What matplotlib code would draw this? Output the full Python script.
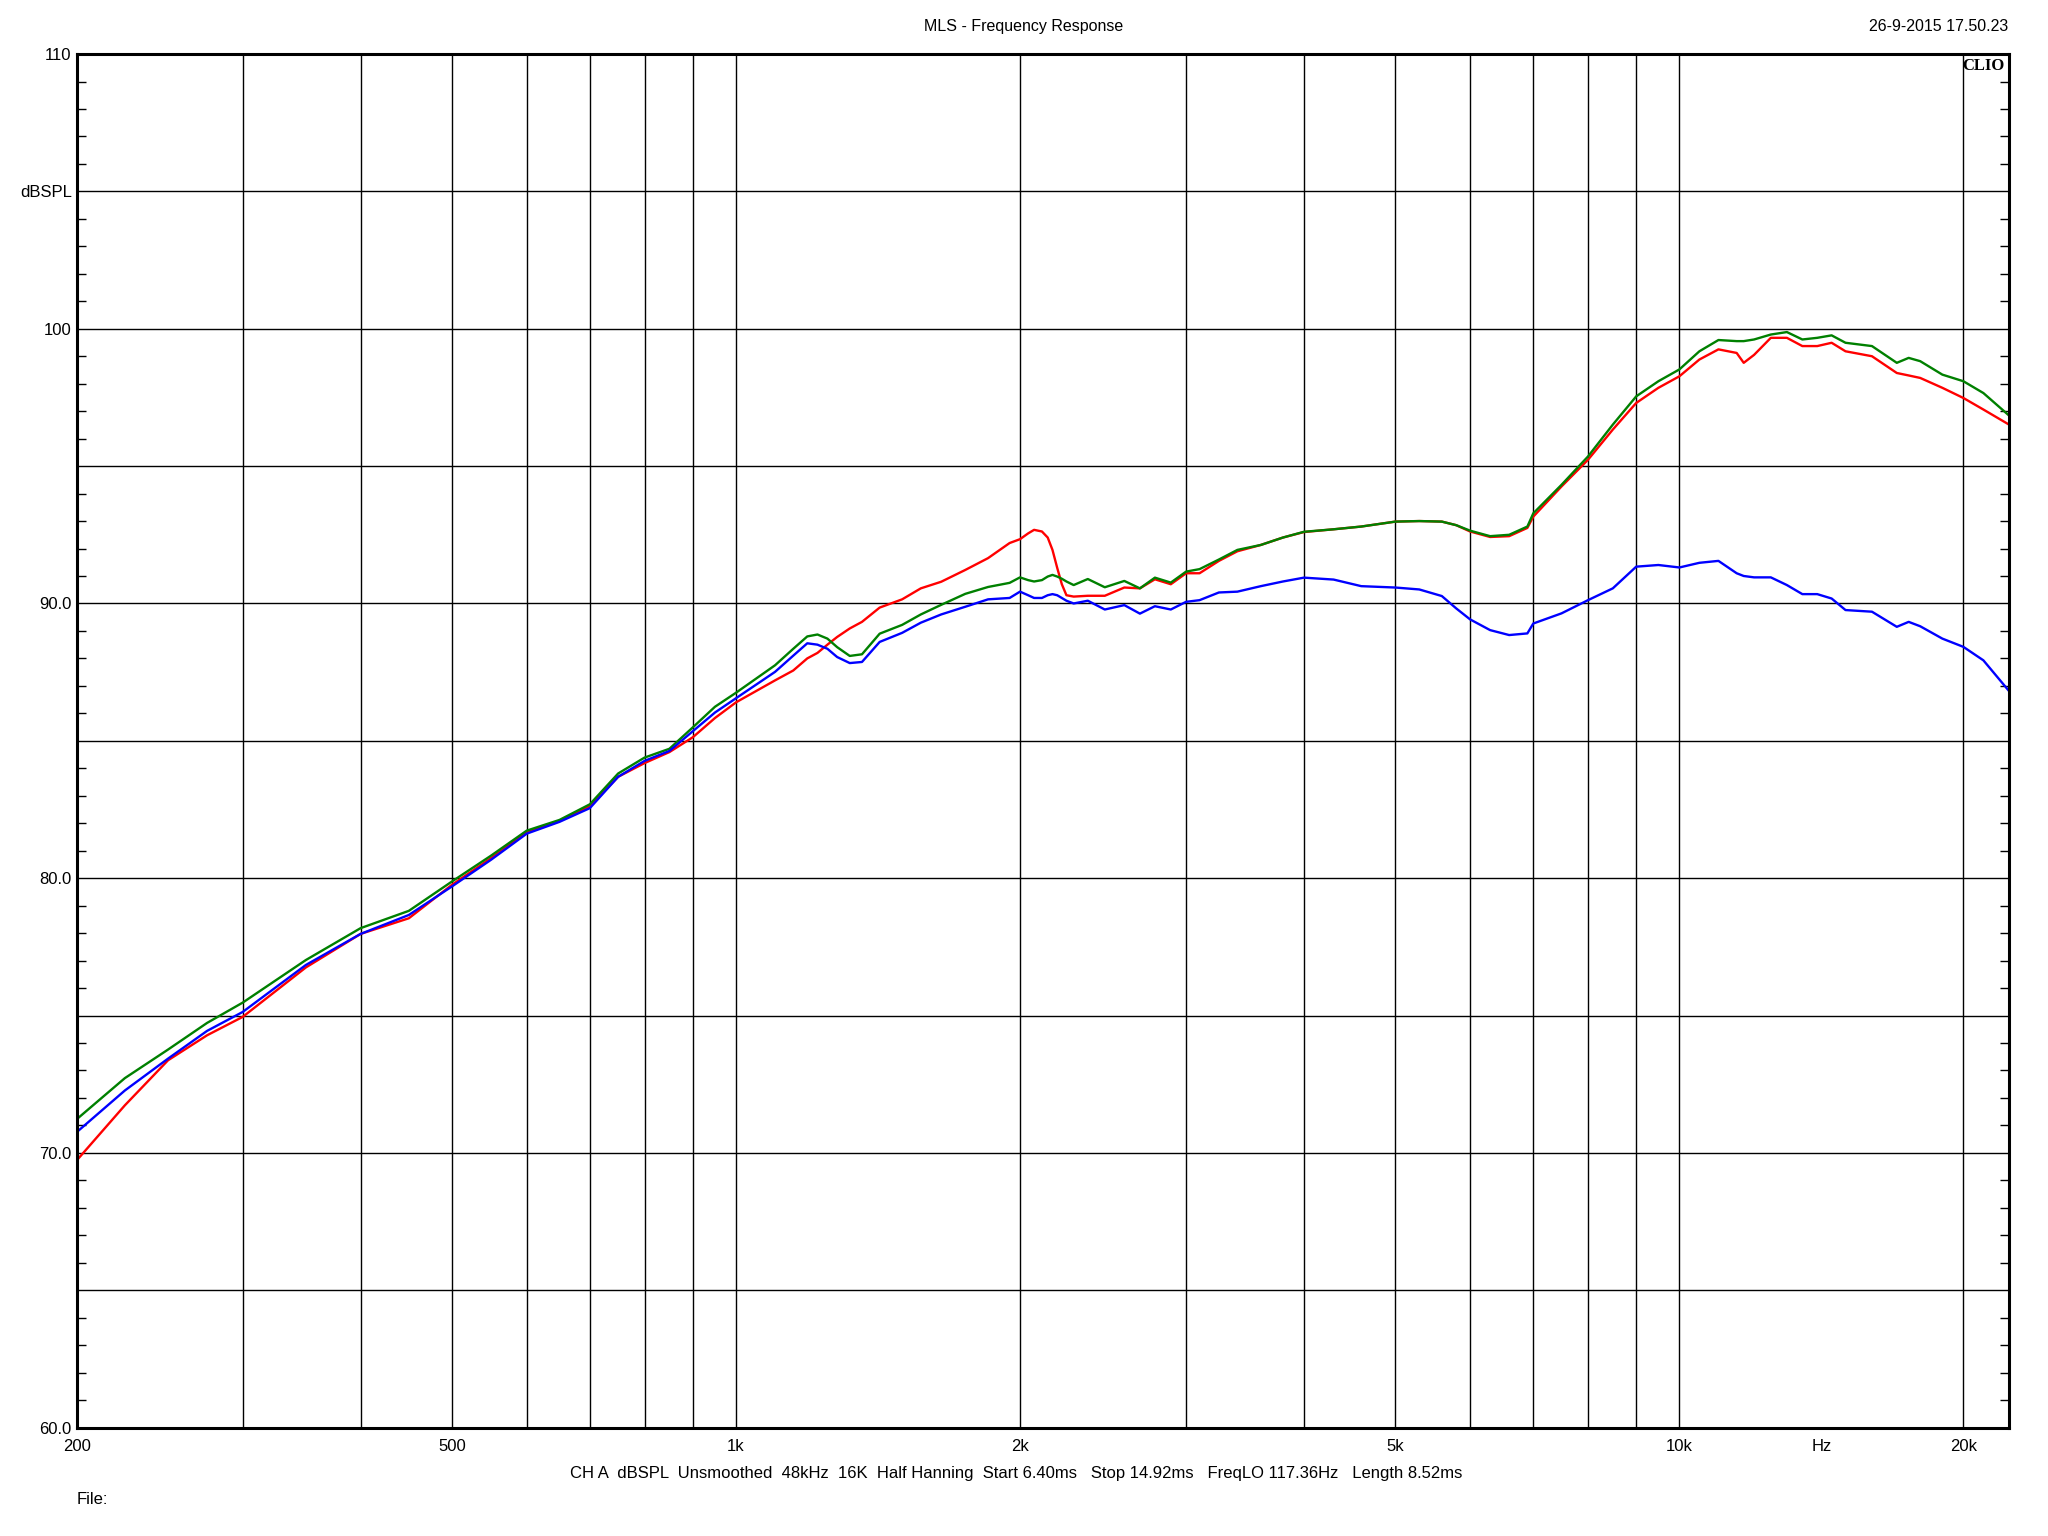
import matplotlib
matplotlib.use('Agg')
from matplotlib import pyplot as plt
from matplotlib.ticker import FixedLocator, MultipleLocator, NullFormatter
import matplotlib.transforms as mtransforms

plt.rcParams['font.family'] = ['Liberation Sans', 'DejaVu Sans']

# frequency points (Hz)
freq = [200, 225, 250, 275, 300, 350, 400, 450, 500, 550, 600, 650, 700, 750,
        800, 850, 900, 950, 1000, 1100, 1150, 1190, 1220, 1250, 1280, 1320,
        1360, 1420, 1500, 1570, 1650, 1750, 1850, 1950, 2000, 2040, 2070, 2110,
        2140, 2165, 2190, 2215, 2240, 2280, 2360, 2460, 2580, 2680, 2780, 2890,
        3000, 3100, 3250, 3400, 3600, 3800, 4000, 4300, 4600, 5000, 5300, 5600,
        5800, 6000, 6300, 6600, 6900, 7000, 7500, 8000, 8500, 9000, 9500, 10000,
        10500, 11000, 11500, 11700, 12000, 12500, 13000, 13500, 14000, 14500,
        15000, 16000, 17000, 17500, 18000, 19000, 20000, 21000, 22360]

# dBSPL, green trace
spl_green = [71.22, 72.72, 73.76, 74.73, 75.47, 77.02, 78.18, 78.81, 79.88, 80.82,
             81.73, 82.12, 82.69, 83.81, 84.39, 84.71, 85.49, 86.24, 86.75, 87.75,
             88.35, 88.80, 88.87, 88.72, 88.41, 88.09, 88.15, 88.90, 89.22, 89.60,
             89.95, 90.35, 90.60, 90.75, 90.95, 90.85, 90.80, 90.85, 90.98, 91.04,
             90.98, 90.90, 90.80, 90.67, 90.89, 90.59, 90.82, 90.55, 90.94, 90.76,
             91.16, 91.25, 91.60, 91.95, 92.13, 92.40, 92.61, 92.70, 92.80, 92.98,
             93.00, 92.98, 92.85, 92.65, 92.45, 92.50, 92.80, 93.28, 94.32, 95.35,
             96.51, 97.54, 98.09, 98.52, 99.18, 99.59, 99.55, 99.55, 99.61, 99.79,
             99.88, 99.61, 99.67, 99.76, 99.49, 99.37, 98.76, 98.94, 98.82, 98.33,
             98.09, 97.66, 96.84]

# dBSPL, blue trace
spl_blue = [70.75, 72.27, 73.43, 74.44, 75.13, 76.84, 77.97, 78.66, 79.70, 80.67,
            81.62, 82.05, 82.55, 83.69, 84.27, 84.63, 85.35, 86.03, 86.55, 87.51,
            88.10, 88.55, 88.50, 88.35, 88.05, 87.83, 87.87, 88.60, 88.93, 89.30,
            89.60, 89.88, 90.15, 90.20, 90.43, 90.30, 90.20, 90.20, 90.30, 90.34,
            90.30, 90.20, 90.10, 90.00, 90.10, 89.78, 89.94, 89.63, 89.90, 89.78,
            90.06, 90.12, 90.40, 90.43, 90.63, 90.80, 90.94, 90.87, 90.63, 90.58,
            90.51, 90.27, 89.82, 89.42, 89.03, 88.85, 88.91, 89.27, 89.64, 90.12,
            90.55, 91.34, 91.40, 91.31, 91.48, 91.55, 91.10, 91.00, 90.95, 90.95,
            90.67, 90.34, 90.34, 90.18, 89.76, 89.70, 89.15, 89.33, 89.17, 88.72,
            88.42, 87.93, 86.81]

# dBSPL, red trace
spl_red = [69.72, 71.73, 73.37, 74.28, 74.95, 76.75, 77.97, 78.54, 79.76, 80.73,
           81.67, 82.08, 82.62, 83.69, 84.19, 84.59, 85.13, 85.83, 86.40, 87.20,
           87.56, 88.00, 88.20, 88.50, 88.78, 89.09, 89.33, 89.85, 90.15, 90.55,
           90.79, 91.22, 91.65, 92.20, 92.34, 92.55, 92.68, 92.62, 92.40, 91.95,
           91.30, 90.70, 90.30, 90.25, 90.28, 90.28, 90.58, 90.55, 90.88, 90.70,
           91.10, 91.10, 91.55, 91.90, 92.13, 92.40, 92.60, 92.70, 92.80, 92.98,
           93.00, 92.98, 92.85, 92.62, 92.42, 92.45, 92.75, 93.16, 94.26, 95.23,
           96.33, 97.30, 97.85, 98.27, 98.88, 99.25, 99.12, 98.76, 99.05, 99.67,
           99.67, 99.37, 99.37, 99.49, 99.18, 99.00, 98.39, 98.30, 98.21, 97.85,
           97.48, 97.06, 96.51]

xticks_major = [200, 500, 1000, 2000, 5000, 10000, 20000]
xtick_labels = ['200', '500', '1k', '2k', '5k', '10k', '20k']
xticks_minor = [300, 400, 600, 700, 800, 900, 3000, 4000, 6000, 7000, 8000, 9000]
yticks = [60, 65, 70, 75, 80, 85, 90, 95, 100, 105, 110]
ytick_labels = ['60.0', '', '70.0', '', '80.0', '', '90.0', '', '100', 'dBSPL', '110']

info = ('CH A  dBSPL  Unsmoothed  48kHz  16K  Half Hanning  Start 6.40ms   '
        'Stop 14.92ms   FreqLO 117.36Hz   Length 8.52ms')

fig = plt.figure(figsize=(20.48, 15.36), dpi=100)
ax = fig.add_axes([0.0374, 0.0706, 0.9436, 0.8942])

ax.plot(freq, spl_red, color='#ff0000', lw=1.7)
ax.plot(freq, spl_green, color='#008000', lw=1.7)
ax.plot(freq, spl_blue, color='#0000ff', lw=1.7)

ax.set_xscale('log')
ax.set_xlim(200, 22360)
ax.set_ylim(60, 110)

ax.xaxis.set_major_locator(FixedLocator(xticks_major))
ax.set_xticklabels(xtick_labels)
ax.xaxis.set_minor_locator(FixedLocator(xticks_minor))
ax.xaxis.set_minor_formatter(NullFormatter())
ax.set_yticks(yticks)
ax.set_yticklabels(ytick_labels)
ax.yaxis.set_minor_locator(MultipleLocator(1))

ax.tick_params(axis='x', which='both', length=0, pad=8, labelsize=12)
ax.tick_params(axis='y', which='major', length=0, pad=3.5, labelsize=12)
ax.tick_params(axis='y', which='minor', direction='in', length=6.5, width=1.0,
               left=True, right=True)

ax.grid(True, which='major', color='black', lw=1.0)
ax.grid(True, which='minor', axis='x', color='black', lw=1.0)
ax.set_axisbelow(True)
for sp in ax.spines.values():
    sp.set_linewidth(2.2)

# "Hz" sits between 10k and 20k on the tick label row
trans = mtransforms.blended_transform_factory(ax.transData, ax.transAxes)
ax.text(14142, -0.0135, 'Hz', transform=trans, ha='center', va='center', fontsize=12)

fig.text(0.5, 0.983, 'MLS - Frequency Response', ha='center', va='center', fontsize=11.5)
fig.text(0.9805, 0.983, '26-9-2015 17.50.23', ha='right', va='center', fontsize=11.5)
fig.text(0.979, 0.962, 'CLIO', ha='right', va='top', fontsize=12,
         family=['Liberation Serif', 'DejaVu Serif'], weight='bold')
fig.text(0.496, 0.041, info, ha='center', va='center', fontsize=12)
fig.text(0.0376, 0.024, 'File:', ha='left', va='center', fontsize=12)

fig.savefig('out.png', dpi=100, facecolor='white')
